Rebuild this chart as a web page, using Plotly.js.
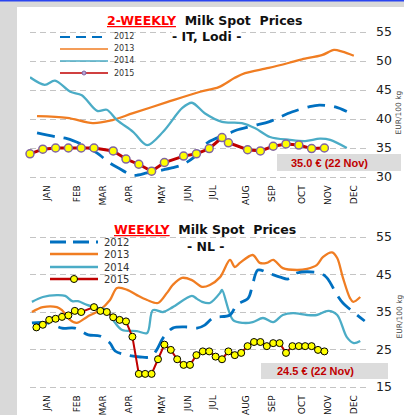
<!DOCTYPE html>
<html><head><meta charset="utf-8">
<script src="https://cdn.plot.ly/plotly-3.0.1.min.js"></script>
<style>html,body{margin:0;padding:0;background:#d9d9d9;overflow:hidden}#chart{width:404px;height:415px}</style>
</head><body><div id="chart"></div>
<script>
// ---- labels ----
const seriesNames = ['2012', '2013', '2014', '2015'];
const monthLabels = ['JAN','FEB','MAR','APR','MAY','JUN','JUL','AUG','SEP','OCT','NOV','DEC'];
const monthTickWeeks = [3.7, 8.3, 12.4, 16.5, 21.6, 25.7, 29.6, 34.75, 38.8, 43.5, 47.6, 51.6];
const lodiTicks = [30, 35, 40, 45, 50, 55];
const nlTicks = [15, 25, 35, 45, 55];
const lodiLast = '35.0 € (22 Nov)';
const nlLast = '24.5 € (22 Nov)';
const unitLabel = 'EUR/100 kg';

// ---- IT, Lodi (2-weekly), x = week of year ----
const lodi2012Weeks = [2.1, 5.2, 6.8, 9.9, 11.5, 13.5, 14.75, 17.1, 19.3, 20.8, 23.3, 24.75, 26.5, 28.7, 32.25, 33.3, 36.5, 38.3, 41.9, 44.6, 46.2, 48.7, 50.5];
const lodi2012 = [37.6, 36.9, 36.6, 35.2, 34.1, 32.4, 31.6, 30.3, 30.7, 31.0, 31.6, 32.1, 33.3, 35.9, 37.6, 38.1, 39.0, 39.5, 41.2, 42.1, 42.4, 42.1, 41.3];
const lodi2013Weeks = [2.1, 6.8, 10.8, 13.5, 17.1, 22.4, 27.6, 30.5, 33, 34.6, 38.3, 41.5, 43.5, 46.6, 48.5, 49.8, 51.6];
const lodi2013 = [40.5, 40.2, 39.3, 39.7, 41.0, 42.9, 44.7, 45.5, 47.1, 47.9, 48.8, 49.7, 50.3, 51.0, 51.9, 51.6, 50.9];
const lodi2014Weeks = [1, 3.3, 4.9, 7.3, 9.1, 11.5, 13, 14.6, 17.1, 19.3, 21.8, 24.8, 26.3, 28.3, 31, 34.1, 36.2, 38.5, 41.6, 44, 46.3, 47.9, 50.5];
const lodi2014 = [47.2, 45.9, 46.6, 44.7, 44.1, 41.4, 41.6, 39.8, 37.8, 35.5, 37.8, 41.9, 42.8, 41.0, 39.5, 39.3, 38.4, 36.9, 36.4, 36.2, 36.6, 36.4, 35.0];
const lodi2015Weeks = [1, 3, 5, 7, 9, 11, 14, 16, 18, 20, 22, 25, 27, 29, 31, 32, 35, 37, 39, 41, 43, 45, 47];
const lodi2015 = [34.0, 34.8, 35.0, 35.0, 35.0, 35.0, 34.5, 33.1, 32.2, 31.0, 32.5, 33.6, 34.0, 34.9, 36.8, 35.9, 34.7, 34.5, 35.3, 35.7, 35.5, 34.9, 35.0];

// ---- NL (weekly) ----
const nl2012Weeks = [1.3, 3.7, 6, 8, 10.1, 11.9, 13.5, 14.3, 16.2, 18.2, 19.75, 20.8, 21.8, 23.3, 25.5, 27.1, 28.3, 29.6, 32.25, 33.3, 35.1, 35.7, 36.6, 38.2, 40.1, 41.3, 42.7, 46.3, 47.4, 49, 49.9, 52.1, 53.3];
const nl2012 = [32.1, 32.1, 30.7, 30.7, 28.9, 28.6, 26.7, 24.6, 23.5, 23.0, 23.0, 24.9, 28.1, 30.7, 31.0, 30.7, 31.5, 33.4, 34.2, 36.9, 38.7, 41.7, 46.2, 45.4, 44.3, 43.8, 45.4, 45.4, 44.1, 39.5, 37.4, 34.2, 32.6];
const nl2013Weeks = [1.3, 3, 5.2, 6, 7.25, 8.3, 9.9, 11.9, 13.5, 14.6, 16.2, 17.7, 19.3, 21, 22.4, 23.3, 24.75, 26.3, 27.9, 29.1, 30.7, 32.25, 33, 33.8, 35.8, 36.9, 38, 39, 40.5, 42.7, 44.3, 45.8, 46.8, 48.2, 49, 49.9, 51, 51.5, 52.6];
const nl2013 = [35.0, 36.3, 36.3, 35.5, 32.9, 32.1, 33.7, 35.5, 38.2, 41.4, 40.9, 39.5, 38.2, 37.4, 40.1, 42.2, 44.1, 43.5, 41.7, 42.2, 44.3, 48.9, 47.0, 48.1, 50.2, 48.1, 48.1, 48.9, 46.7, 46.2, 46.5, 47.5, 49.7, 50.9, 49.4, 44.1, 38.7, 37.7, 39.0];
const nl2014Weeks = [1.3, 3, 5.2, 6.5, 7.6, 8.5, 9.9, 11.5, 13, 14.3, 15.4, 17.7, 19.3, 20.2, 21.8, 23.3, 26.3, 27.1, 27.9, 29.1, 30.7, 31, 32.7, 34.3, 35.8, 37.4, 39, 40.5, 42.1, 44.3, 45.8, 47.6, 49, 50.5, 51.6, 52.6];
const nl2014 = [37.7, 39.0, 39.5, 39.3, 37.9, 37.9, 36.9, 36.1, 35.5, 32.1, 30.2, 29.9, 29.4, 35.5, 35.0, 36.3, 39.3, 38.5, 37.7, 37.4, 40.1, 40.9, 32.9, 32.1, 32.3, 33.4, 32.3, 34.2, 34.7, 34.2, 34.2, 35.3, 34.2, 28.3, 26.7, 27.3];
const nl2015Weeks = [2, 3, 4, 5, 6, 7, 8, 9, 11, 12, 13, 14, 15, 16, 17, 18, 19, 20, 21, 22, 23, 24, 25, 26, 27, 28, 29, 30, 31, 32, 33, 34, 35, 36, 37, 38, 39, 40, 41, 42, 43, 44, 45, 46, 47];
const nl2015 = [30.9, 31.6, 32.9, 33.2, 33.7, 34.1, 35.3, 35.0, 36.3, 35.3, 35.0, 33.6, 32.9, 32.5, 28.4, 18.5, 18.5, 18.5, 22.4, 26.3, 24.9, 22.4, 20.9, 20.9, 23.5, 24.5, 24.5, 23.1, 22.4, 24.5, 23.5, 24.1, 25.9, 27.0, 27.0, 25.9, 26.7, 26.7, 24.1, 25.9, 25.9, 25.9, 25.9, 24.9, 24.5];

// ---- styles ----
const C12 = '#0070c0', C13 = '#f07d22', C14 = '#4bacc6', C15 = '#c00000';
const W = 404, H = 415;
const X = p => p / W;
const Y = p => 1 - p / H;
const FONT = 'DejaVu Sans, Verdana, sans-serif';

function line(x, y, color, dash, width, xa, ya) {
  return {x, y, xaxis: xa, yaxis: ya, type: 'scatter', mode: 'lines', hoverinfo: 'skip',
    line: {color, width, dash, shape: 'spline', smoothing: 0.9}, cliponaxis: false, showlegend: false};
}
const traces = [
  line(lodi2013Weeks, lodi2013, C13, 'solid', 2.3, 'x', 'y'),
  line(lodi2014Weeks, lodi2014, C14, 'solid', 2.3, 'x', 'y'),
  line(lodi2012Weeks, lodi2012, C12, '18px,9px', 2.8, 'x', 'y'),
  {x: lodi2015Weeks, y: lodi2015, xaxis: 'x', yaxis: 'y', type: 'scatter', mode: 'lines+markers', showlegend: false,
   line: {color: C15, width: 3}, marker: {size: 8, color: '#ffff00', line: {color: '#8064a2', width: 1.5}}, cliponaxis: false, hoverinfo: 'skip'},
  line(nl2013Weeks, nl2013, C13, 'solid', 2.3, 'x2', 'y2'),
  line(nl2014Weeks, nl2014, C14, 'solid', 2.3, 'x2', 'y2'),
  line(nl2012Weeks, nl2012, C12, '18px,9px', 2.8, 'x2', 'y2'),
  {x: nl2015Weeks, y: nl2015, xaxis: 'x2', yaxis: 'y2', type: 'scatter', mode: 'lines+markers', showlegend: false,
   line: {color: C15, width: 2}, marker: {size: 7, color: '#ffff00', line: {color: '#000', width: 1}}, cliponaxis: false, hoverinfo: 'skip'}
];

const xCommon = {range: [1, 53.5], tickmode: 'array', tickvals: monthTickWeeks, ticktext: monthLabels, tickangle: -90,
  tickfont: {family: FONT, size: 9, color: '#111'}, showgrid: false, zeroline: false, showline: false, ticks: '',
  ticklabelstandoff: 4, fixedrange: true, automargin: false, domain: [X(30), X(366)]};
const yCommon = {side: 'right', tickmode: 'array', tickfont: {family: FONT, size: 12.5, color: '#222'},
  showgrid: true, gridcolor: '#c4c4c4', griddash: '6px,4px', gridwidth: 1, zeroline: false, showline: false,
  ticks: '', ticklabelstandoff: 9, fixedrange: true, automargin: false};

const shapes = [
  {type: 'rect', xref: 'paper', yref: 'paper', x0: X(17), x1: 1, y0: 0, y1: Y(7), fillcolor: '#ffffff', line: {width: 0}, layer: 'below'},
  {type: 'rect', xref: 'paper', yref: 'paper', x0: 0, x1: 1, y0: Y(1.5), y1: 1, fillcolor: '#2a45f0', line: {width: 0}, layer: 'below'},
  // legend backgrounds
  {type: 'rect', xref: 'paper', yref: 'paper', x0: X(33), x1: X(158), y0: Y(80), y1: Y(26), fillcolor: '#fff', line: {width: 0}, layer: 'between'},
  {type: 'rect', xref: 'paper', yref: 'paper', x0: X(32), x1: X(147), y0: Y(286), y1: Y(233), fillcolor: '#fff', line: {width: 0}, layer: 'between'},
  // value boxes
  {type: 'rect', xref: 'paper', yref: 'paper', x0: X(277), x1: X(401), y0: Y(171), y1: Y(154), fillcolor: '#dcdcdc', line: {width: 0}},
  {type: 'rect', xref: 'paper', yref: 'paper', x0: X(261), x1: X(388), y0: Y(379), y1: Y(363), fillcolor: '#dcdcdc', line: {width: 0}}
];

const legendStyles = [
  {color: C12, dash: '10px,6px', w: 2},
  {color: C13, dash: 'solid', w: 1.6},
  {color: C14, dash: 'solid', w: 1.6},
  {color: C15, dash: 'solid', w: 1.6}
];
const annotations = [];
function ann(o) {
  annotations.push(Object.assign({xref: 'paper', yref: 'paper', xanchor: 'center', yanchor: 'middle', showarrow: false}, o));
}
function addLegend(x0, x1, ys, tx, fsize, scale, markerFill, markerLine, mr) {
  seriesNames.forEach((name, i) => {
    const s = legendStyles[i];
    shapes.push({type: 'line', xref: 'paper', yref: 'paper', x0: X(x0), x1: X(x1), y0: Y(ys[i]), y1: Y(ys[i]),
      line: {color: s.color, width: s.w * scale, dash: s.dash === 'solid' ? 'solid' : (scale > 1 ? '16px,7px' : s.dash)}});
    ann({x: X(tx), y: Y(ys[i]), xanchor: 'left', text: name, font: {family: FONT, size: fsize, color: '#333'}});
  });
  const xm = (x0 + x1) / 2, ym = ys[3];
  shapes.push({type: 'circle', xref: 'paper', yref: 'paper', x0: X(xm - mr), x1: X(xm + mr), y0: Y(ym + mr), y1: Y(ym - mr),
    fillcolor: markerFill, line: {color: markerLine, width: 1}});
}
addLegend(60, 108, [37, 49, 61, 73], 112, 8, 1, '#b9a6d6', '#8064a2', 2);
addLegend(50, 98, [242, 254, 267, 279], 102, 10, 1.5, '#ffff00', '#000', 3.5);

function title(y, red, sub, ysub) {
  ann({x: X(205), y: Y(y),
    text: '<b><span style="color:#ff0000"><u>' + red + '</u></span>&nbsp;&nbsp;Milk&nbsp;Spot&nbsp;&nbsp;Prices</b>',
    font: {family: FONT, size: 12.5, color: '#111'}});
  ann({x: X(206), y: Y(ysub), text: '<b>' + sub + '</b>', bgcolor: '#ffffff', borderpad: 0,
    font: {family: FONT, size: 12.5, color: '#111'}});
}
title(20, '2-WEEKLY', '- IT, Lodi -', 37);
title(229, 'WEEKLY', '- NL -', 246);

ann({x: X(329), y: Y(162.5), text: '<b>' + lodiLast + '</b>',
  font: {family: 'Liberation Sans, Arial, sans-serif', size: 11, color: '#c00000'}});
ann({x: X(315), y: Y(371), text: '<b>' + nlLast + '</b>',
  font: {family: 'Liberation Sans, Arial, sans-serif', size: 11, color: '#c00000'}});
[113, 317].forEach(yc => ann({x: X(398.5), y: Y(yc), text: unitLabel, textangle: -90,
  font: {family: FONT, size: 7.5, color: '#444'}}));

const layout = {
  width: W, height: H, margin: {l: 0, r: 0, t: 0, b: 0, pad: 0}, paper_bgcolor: '#d9d9d9', plot_bgcolor: 'rgba(0,0,0,0)',
  showlegend: false,
  xaxis: Object.assign({}, xCommon, {anchor: 'y'}),
  yaxis: Object.assign({}, yCommon, {anchor: 'x', domain: [Y(178.45), Y(30.55)], range: [29.75, 55.25], tickvals: lodiTicks}),
  xaxis2: Object.assign({}, xCommon, {anchor: 'y2'}),
  yaxis2: Object.assign({}, yCommon, {anchor: 'x2', domain: [Y(388.5), Y(235.5)], range: [14.6, 55.4], tickvals: nlTicks}),
  shapes, annotations
};
Plotly.newPlot('chart', traces, layout, {staticPlot: true, displayModeBar: false});
</script></body></html>
